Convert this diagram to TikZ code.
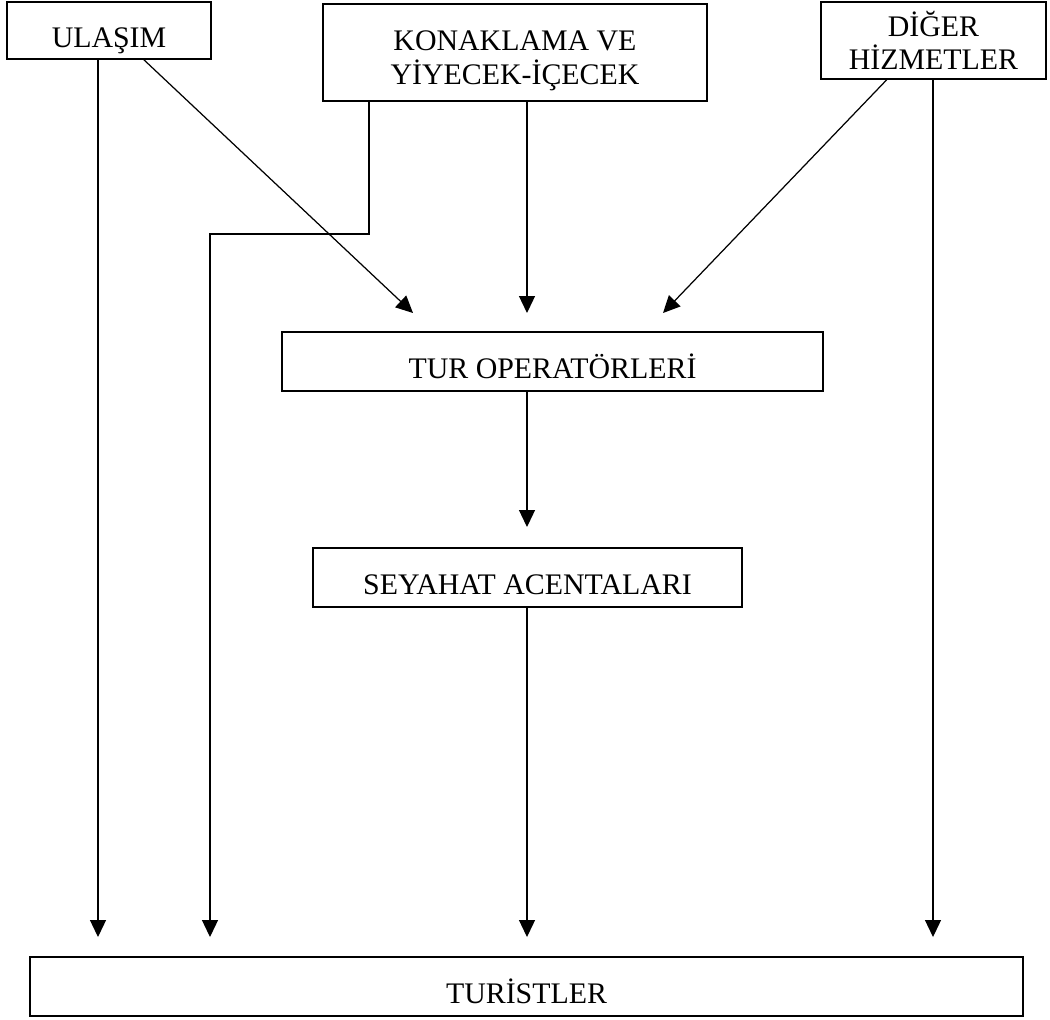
\documentclass[tikz,border=0pt]{standalone}
\usepackage{fontspec}
\setmainfont{Liberation Serif}
\usetikzlibrary{arrows.meta,positioning}

\begin{document}
\begin{tikzpicture}[x=0.02cm, y=-0.02cm,
    >={Triangle[length=0.34cm,width=0.32cm]},
    box/.style={draw, line width=0.85pt, inner sep=0pt,
        font=\fontsize{17pt}{19pt}\selectfont, align=center},
    onebox/.style={box, text height=19pt, text depth=0pt},
    flow/.style={->, line width=0.7pt}]

\useasboundingbox (0,0) rectangle (1050,1019);

% suppliers
\node[onebox, minimum width=4.08cm, minimum height=1.14cm] (ulasim) at (109, 30.5) {ULAŞIM};
\node[box, text height=36pt, text depth=0pt, minimum width=7.68cm, minimum height=1.94cm] (konak) at (515, 52.5) {KONAKLAMA VE\\YİYECEK-İÇECEK};
\node[box, minimum width=4.5cm, minimum height=1.54cm] (diger) at (933.5, 40.5) {DİĞER\\HİZMETLER};

% intermediaries
\node[onebox, minimum width=10.82cm, minimum height=1.18cm] (tur_op) at (552.5, 361.5) {TUR OPERATÖRLERİ};
\node[onebox, minimum width=8.58cm, minimum height=1.18cm] (seyahat) at (527.5, 577.5) {SEYAHAT ACENTALARI};

% consumers
\node[onebox, minimum width=19.86cm, minimum height=1.18cm] (turist) at (526.5, 986.5) {TURİSTLER};

% arrow ends
\coordinate (tip_u) at (98, 937);
\coordinate (tip_k) at (210, 937);
\coordinate (tip_s) at (527, 937);
\coordinate (tip_d) at (933, 937);
\coordinate (op_u) at (413, 313);
\coordinate (op_k) at (527, 313);
\coordinate (op_d) at (663, 313);
\coordinate (sa_t) at (527, 527);
\coordinate (k_bend) at (369, 234);

\draw[flow] (ulasim.south -| tip_u) -- (tip_u);
\draw[flow] (ulasim.-40) -- (op_u);
\draw[flow] (konak.south -| op_k) -- (op_k);
\draw[flow] (konak.south -| k_bend) -- (k_bend) -| (tip_k);
\draw[flow] (diger.-140) -- (op_d);
\draw[flow] (diger.south -| tip_d) -- (tip_d);
\draw[flow] (tur_op.south -| sa_t) -- (sa_t);
\draw[flow] (seyahat.south -| tip_s) -- (tip_s);

\end{tikzpicture}
\end{document}
